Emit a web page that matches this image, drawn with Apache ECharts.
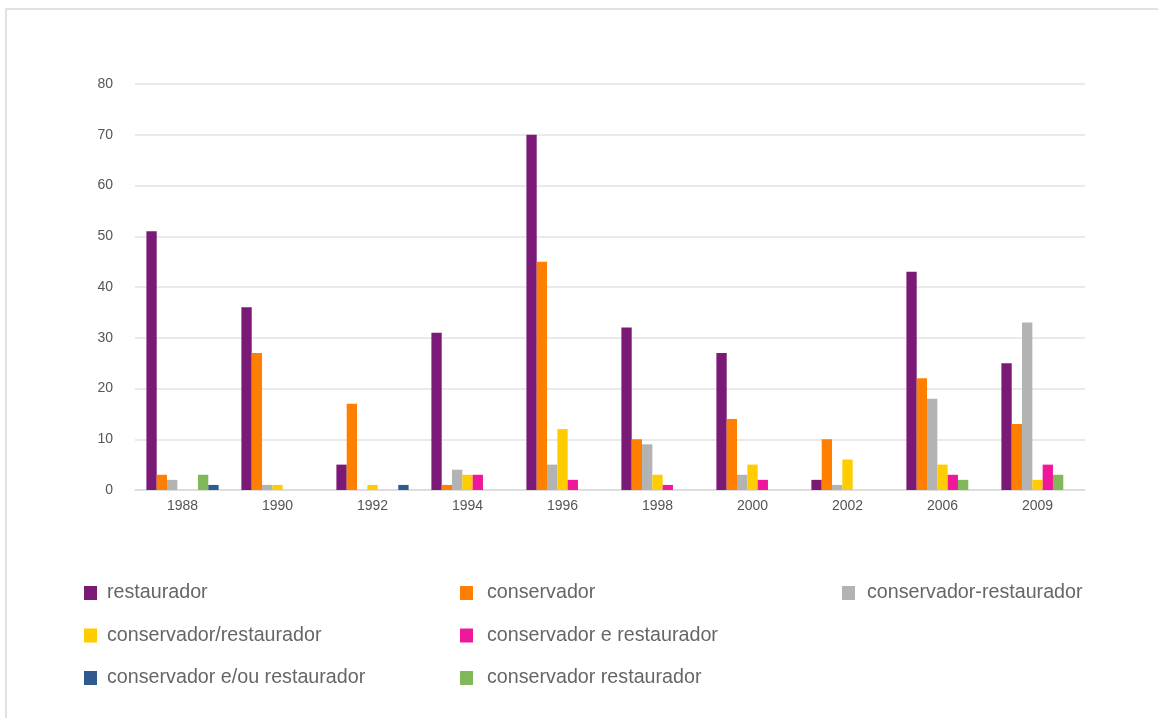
<!DOCTYPE html>
<html>
<head>
<meta charset="utf-8">
<script src="https://cdn.jsdelivr.net/npm/echarts@6/dist/echarts.min.js"></script>
<style>
  html, body { margin: 0; padding: 0; background: #fff; }
  #main { width: 1158px; height: 718px; }
</style>
</head>
<body>
<div id="main"></div>
<script>
    // categorias (anos)
    var years = ["1988", "1990", "1992", "1994", "1996", "1998", "2000", "2002", "2006", "2009"];
    // valores de cada designacao
    var restaurador        = [51, 36, 5, 31, 70, 32, 27, 2, 43, 25];
    var conservador        = [3, 27, 17, 1, 45, 10, 14, 10, 22, 13];
    var consHifen          = [2, 1, 0, 4, 5, 9, 3, 1, 18, 33];
    var consBarra          = [0, 1, 1, 3, 12, 3, 5, 6, 5, 2];
    var consERest          = [0, 0, 0, 3, 2, 1, 2, 0, 3, 5];
    var consRest           = [3, 0, 0, 0, 0, 0, 0, 0, 2, 3];
    var consEouRest        = [1, 0, 1, 0, 0, 0, 0, 0, 0, 0];
    var yTicks = { min: 0, max: 80, interval: 10 };

    var seriesList = [
        { name: "restaurador", data: restaurador, color: "#7b1a76" },
        { name: "conservador", data: conservador, color: "#ff7f00" },
        { name: "conservador-restaurador", data: consHifen, color: "#b3b3b3" },
        { name: "conservador/restaurador", data: consBarra, color: "#ffcc00" },
        { name: "conservador e restaurador", data: consERest, color: "#f0189a" },
        { name: "conservador restaurador", data: consRest, color: "#80b85a" },
        { name: "conservador e/ou restaurador", data: consEouRest, color: "#2f5a8e" }
    ];

    var series = [];
    for (var i = 0; i < seriesList.length; i++) {
        series.push({
            name: seriesList[i].name,
            type: 'bar',
            data: seriesList[i].data,
            itemStyle: { color: seriesList[i].color },
            barGap: '0%',
            barCategoryGap: '24%'
        });
    }

    function makeLegend(left, pad, names) {
        return {
            orient: 'vertical',
            left: left,
            top: 583,
            padding: 0,
            icon: 'rect',
            itemWidth: 13,
            itemHeight: 14,
            itemGap: 22.5,
            selectedMode: false,
            data: names,
            textStyle: {
                fontFamily: "Liberation Sans",
                fontSize: 19.7,
                color: "#666",
                lineHeight: 20,
                padding: [0, 0, 0, pad]
            }
        };
    }

    var myChart = echarts.init(document.getElementById("main"));
    var option = {
        animation: false,
        backgroundColor: '#fff',
        graphic: [{
            type: 'polyline',
            shape: { points: [[6, 718], [6, 9], [1158, 9]] },
            style: { stroke: '#e2e2e2', lineWidth: 2, fill: null },
            silent: true
        }],
        legend: [
            makeLegend(84, 5, ["restaurador", "conservador/restaurador", "conservador e/ou restaurador"]),
            makeLegend(460, 9, ["conservador", "conservador e restaurador", "conservador restaurador"]),
            makeLegend(842, 7, ["conservador-restaurador"])
        ],
        grid: {
            left: 135,
            right: 73,
            top: 84,
            bottom: 228,
            containLabel: false
        },
        xAxis: {
            type: 'category',
            data: years,
            axisLine: { lineStyle: { color: '#d9d9d9', width: 1.5 } },
            axisTick: { show: false },
            axisLabel: {
                fontFamily: "Liberation Sans",
                fontSize: 14,
                color: '#555',
                margin: 9
            }
        },
        yAxis: {
            type: 'value',
            min: yTicks.min,
            max: yTicks.max,
            interval: yTicks.interval,
            axisLine: { show: false },
            axisTick: { show: false },
            splitLine: { lineStyle: { color: '#e3e3e3', width: 1.5 } },
            axisLabel: {
                fontFamily: "Liberation Sans",
                fontSize: 14,
                color: '#555',
                margin: 22
            }
        },
        series: series
    };
    myChart.setOption(option, true);
</script>
</body>
</html>
